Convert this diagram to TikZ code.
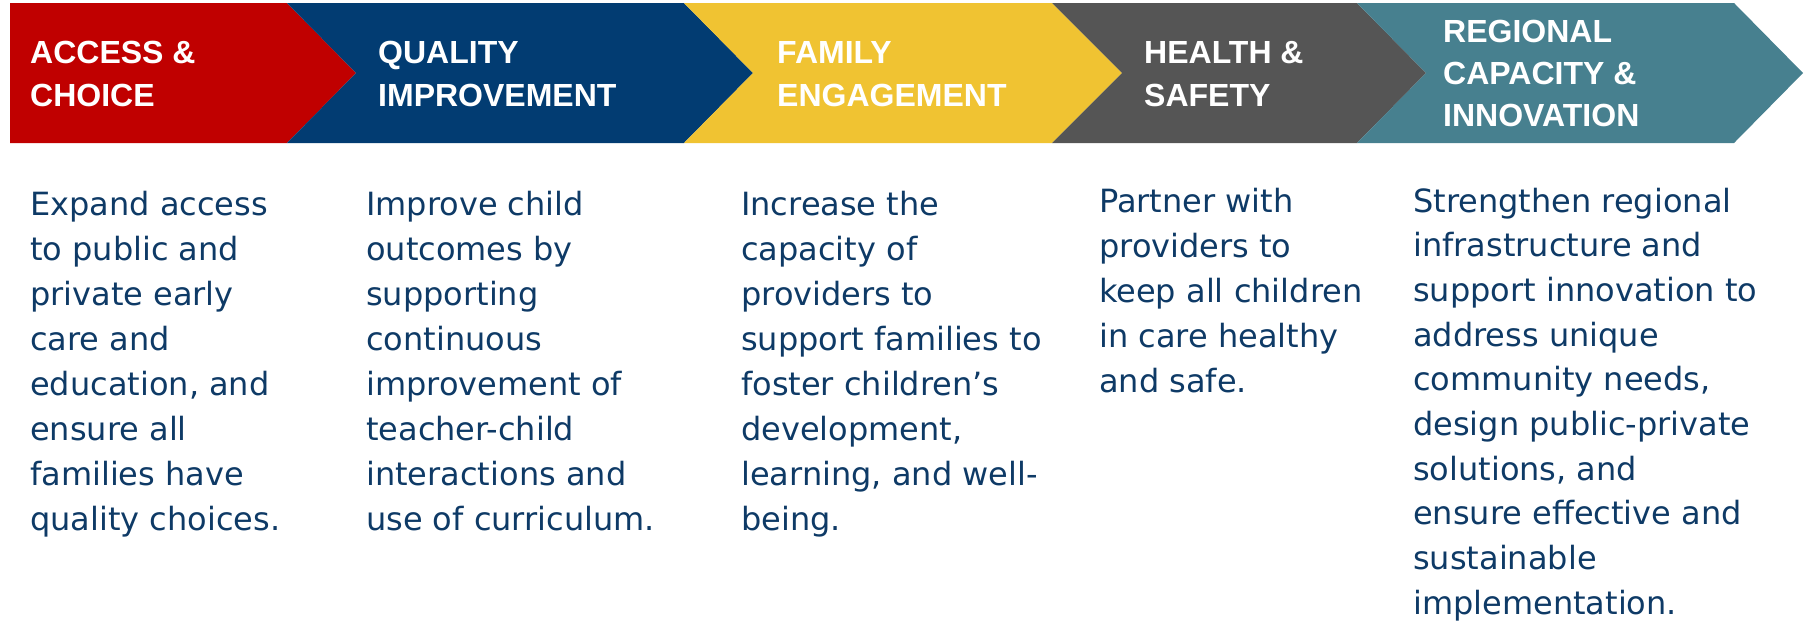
\documentclass[tikz,border=0pt]{standalone}
\usepackage{fontspec}
\setmainfont{DejaVu Sans}
\newfontfamily\hdrfont{Liberation Sans}
\definecolor{cRed}{HTML}{C00000}
\definecolor{cBlue}{HTML}{023C72}
\definecolor{cYellow}{HTML}{F0C332}
\definecolor{cGray}{HTML}{555555}
\definecolor{cTeal}{HTML}{47808F}
\definecolor{bodyblue}{HTML}{0E3A66}
\begin{document}
\begin{tikzpicture}[x=1pt,y=-1pt,
  hdr/.style={anchor=base west,inner sep=0pt,text=white,font=\hdrfont\bfseries\fontsize{32}{43}\selectfont},
  body/.style={anchor=base west,inner sep=0pt,text=bodyblue,font=\fontsize{32}{45.1}\selectfont}]
\useasboundingbox (0,0) rectangle (1820,622);
\fill[cRed] (10,3) -- (287,3) -- (356,73) -- (287,143) -- (10,143) -- cycle;
\fill[cBlue] (287,3) -- (684,3) -- (753,73) -- (684,143) -- (287,143) -- (356,73) -- cycle;
\fill[cYellow] (684,3) -- (1052,3) -- (1122,73) -- (1052,143) -- (684,143) -- (753,73) -- cycle;
\fill[cGray] (1052,3) -- (1357,3) -- (1426,73) -- (1357,143) -- (1052,143) -- (1122,73) -- cycle;
\fill[cTeal] (1357,3) -- (1734,3) -- (1803,73) -- (1734,143) -- (1357,143) -- (1426,73) -- cycle;

\node[hdr] (h1) at (30,63) {\parbox[t]{300pt}{ACCESS \&\\CHOICE}};
\node[hdr] (h2) at (378,63) {\parbox[t]{300pt}{QUALITY\\IMPROVEMENT}};
\node[hdr] (h3) at (777,63) {\parbox[t]{300pt}{FAMILY\\ENGAGEMENT}};
\node[hdr] (h4) at (1144,63) {\parbox[t]{300pt}{HEALTH \&\\SAFETY}};
\node[hdr,font=\hdrfont\bfseries\fontsize{32}{42.3}\selectfont] (h5) at (1443,42) {\parbox[t]{300pt}{REGIONAL\\CAPACITY \&\\INNOVATION}};

\node[body] (b1) at (30,215) {\parbox[t]{340pt}{Expand access\\to public and\\private early\\care and\\education, and\\ensure all\\families have\\quality choices.}};
\node[body] (b2) at (366,215) {\parbox[t]{340pt}{Improve child\\outcomes by\\supporting\\continuous\\improvement of\\teacher-child\\interactions and\\use of curriculum.}};
\node[body] (b3) at (741,215) {\parbox[t]{340pt}{Increase the\\capacity of\\providers to\\support families to\\foster children’s\\development,\\learning, and well-\\being.}};
\node[body] (b4) at (1099,212) {\parbox[t]{340pt}{Partner with\\providers to\\keep all children\\in care healthy\\and safe.}};
\node[body,font=\fontsize{32}{44.7}\selectfont] (b5) at (1413,212) {\parbox[t]{400pt}{Strengthen regional\\infrastructure and\\support innovation to\\address unique\\community needs,\\design public-private\\solutions, and\\ensure effective and\\sustainable\\implementation.}};
\end{tikzpicture}
\end{document}
